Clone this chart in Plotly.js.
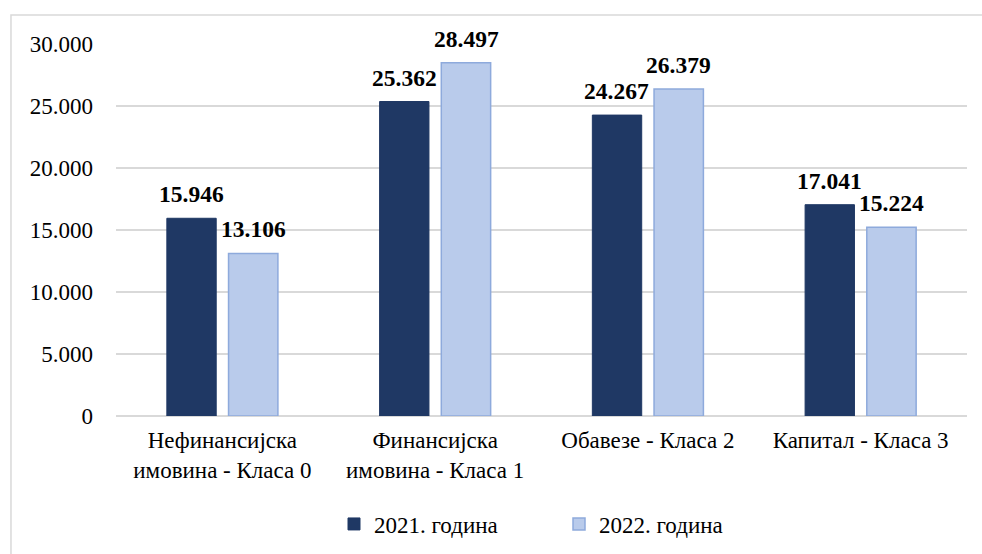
<!DOCTYPE html>
<html>
<head>
<meta charset="utf-8">
<script src="https://cdn.plot.ly/plotly-3.0.1.min.js"></script>
<style>html,body{margin:0;padding:0;background:#fff;}#chart{width:982px;height:554px;}</style>
</head>
<body>
<div id="chart"></div>
<script>
const categories = ["Нефинансијска<br>имовина - Класа 0", "Финансијска<br>имовина - Класа 1", "Обавезе - Класа 2", "Капитал - Класа 3"];
const series2021 = [15946, 25362, 24267, 17041];
const series2022 = [13106, 28497, 26379, 15224];
const seriesNames = ["2021. година", "2022. година"];
const yTicks = [0, 5000, 10000, 15000, 20000, 25000, 30000];

const font = "Liberation Serif";
const labelFont = {family: font, size: 23.5, color: "#000"};
const colors = ["#1f3864", "#b9cbeb"];

const traces = [
  {type: "bar", name: seriesNames[0], x: categories, y: series2021,
   marker: {color: colors[0], line: {color: "#1f3864", width: 1}}, hoverinfo: "none"},
  {type: "bar", name: seriesNames[1], x: categories, y: series2022,
   marker: {color: colors[1], line: {color: "#8eaadc", width: 1.5}}, hoverinfo: "none"}
];

const fmt = v => v.toLocaleString("de-DE");
const annotations = [];
[series2021, series2022].forEach((s, si) => {
  s.forEach((v, i) => {
    annotations.push({x: categories[i], y: v, xref: "x", yref: "y", text: "<b>" + fmt(v) + "</b>",
      showarrow: false, yanchor: "bottom", xanchor: "center", xshift: si === 0 ? -31 : 31, yshift: 9,
      font: labelFont});
  });
});

const layout = {
  width: 982, height: 554,
  margin: {l: 116, r: 15, t: 44, b: 138},
  paper_bgcolor: "#fff", plot_bgcolor: "#fff",
  separators: ",.",
  barmode: "group", bargap: 0.42, bargroupgap: 0.2,
  font: {family: font, size: 23, color: "#000"},
  xaxis: {tickfont: {family: font, size: 23, color: "#000"}, showgrid: false, zeroline: false,
          showline: false, ticks: "", automargin: false, ticklabelstandoff: 8},
  yaxis: {range: [0, 30000], tickvals: yTicks, tickformat: ",d", showgrid: true, gridcolor: "#d9d9d9",
          gridwidth: 1.5, zeroline: true, zerolinecolor: "#d9d9d9", zerolinewidth: 1.5, showline: false, ticks: "",
          ticklabelstandoff: 22, tickfont: {family: font, size: 23, color: "#000"}, automargin: false},
  legend: {orientation: "h", xref: "container", yref: "container", x: 334 / 982, xanchor: "left",
           y: 1 - 524 / 554, yanchor: "middle",
           font: {family: font, size: 23, color: "#000"}, itemwidth: 30, traceorder: "normal",
           entrywidth: 180, entrywidthmode: "pixels"},
  annotations: annotations,
  shapes: [{type: "rect", xref: "paper", yref: "paper", x0: -0.1234, x1: 1.2, y0: -0.6, y1: 1.078,
            line: {color: "#d9d9d9", width: 1.5}, fillcolor: "rgba(0,0,0,0)", layer: "below"}],
  showlegend: true
};

Plotly.newPlot("chart", traces, layout, {displayModeBar: false, staticPlot: true});
</script>
</body>
</html>
